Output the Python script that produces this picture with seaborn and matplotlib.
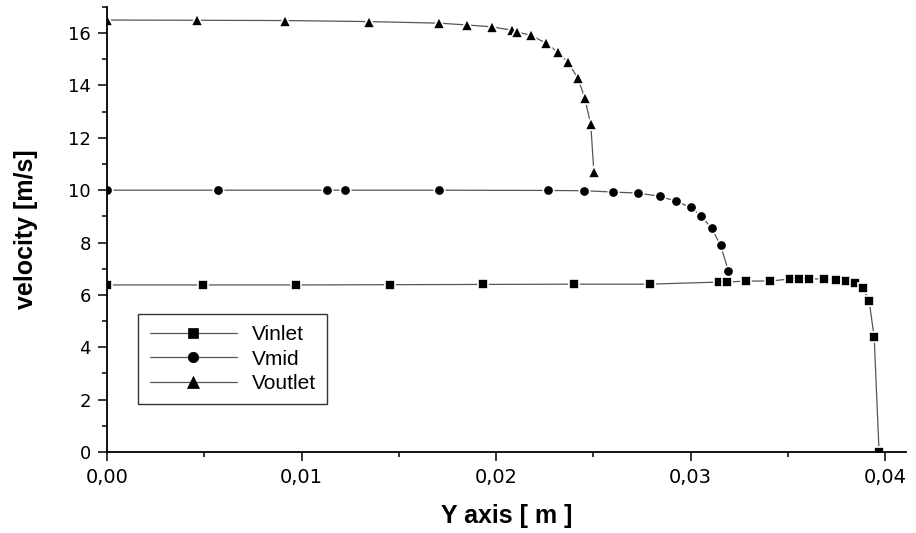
import pandas as pd
import seaborn as sns
import matplotlib.pyplot as plt
from matplotlib.ticker import MultipleLocator, FuncFormatter

# values
vinlet_x = [0.0, 0.00492, 0.00974, 0.01456, 0.01933, 0.02400, 0.02790, 0.03144, 0.03185,
            0.03287, 0.03410, 0.03513, 0.03559, 0.03610, 0.03687, 0.03749, 0.03800,
            0.03846, 0.03887, 0.03918, 0.03944, 0.03969]
vinlet_y = [6.38, 6.38, 6.38, 6.39, 6.40, 6.41, 6.41, 6.49, 6.49,
            6.53, 6.53, 6.61, 6.61, 6.61, 6.61, 6.57, 6.53,
            6.45, 6.26, 5.77, 4.39, 0.0]

vmid_x = [0.0, 0.00569, 0.01133, 0.01226, 0.01708, 0.02267, 0.02451, 0.02600, 0.02728,
          0.02841, 0.02923, 0.03000, 0.03056, 0.03108, 0.03154, 0.03195]
vmid_y = [10.0, 10.0, 10.0, 10.0, 10.0, 9.99, 9.98, 9.93, 9.89,
          9.77, 9.58, 9.35, 9.01, 8.55, 7.90, 6.91]

voutlet_x = [0.0, 0.00462, 0.00913, 0.01349, 0.01708, 0.01851, 0.01979, 0.02082, 0.02108,
             0.02179, 0.02256, 0.02318, 0.02369, 0.02421, 0.02456, 0.02487, 0.02503]
voutlet_y = [16.50, 16.49, 16.48, 16.44, 16.38, 16.31, 16.24, 16.11, 16.04,
             15.92, 15.62, 15.27, 14.89, 14.28, 13.52, 12.52, 10.69]

series = [("Vinlet", vinlet_x, vinlet_y, "s", 6.5),
          ("Vmid", vmid_x, vmid_y, "o", 7.5),
          ("Voutlet", voutlet_x, voutlet_y, "^", 8.5)]

sns.set_style("ticks")
plt.rcParams['font.family'] = ['Liberation Sans', 'DejaVu Sans']
plt.rcParams['text.color'] = 'black'
plt.rcParams['axes.labelcolor'] = 'black'

fig = plt.figure(figsize=(9.16, 5.33), dpi=100)
ax = fig.add_axes([0.1168, 0.152, 0.8728, 0.835])

for name, xs, ys, mk, ms in series:
    df = pd.DataFrame({"y": xs, "v": ys})
    sns.lineplot(data=df, x="y", y="v", ax=ax, sort=False, estimator=None,
                 color="#555555", linewidth=0.9, marker=mk, markersize=ms,
                 markerfacecolor="black", markeredgecolor="white",
                 markeredgewidth=1.2, label=name)

ax.set_xlim(0, 0.0411)
ax.set_ylim(0, 17)
ax.xaxis.set_major_locator(MultipleLocator(0.01))
ax.xaxis.set_minor_locator(MultipleLocator(0.005))
ax.yaxis.set_major_locator(MultipleLocator(2))
ax.yaxis.set_minor_locator(MultipleLocator(1))
ax.xaxis.set_major_formatter(FuncFormatter(lambda v, p: f"{v:.2f}".replace(".", ",")))

sns.despine(ax=ax)
for sp in ["left", "bottom"]:
    ax.spines[sp].set_linewidth(1.3)
    ax.spines[sp].set_color("black")
ax.tick_params(which="major", direction="out", length=6.5, width=1.1, colors="black",
               labelsize=13, pad=5)
ax.tick_params(which="minor", direction="out", length=3.5, width=1.1, colors="black")
for lab in ax.get_xticklabels():
    lab.set_fontfamily(['DejaVu Sans'])
    lab.set_fontsize(14)
for lab in ax.get_yticklabels():
    lab.set_fontfamily(['DejaVu Sans'])
    lab.set_fontsize(13)

ax.set_xlabel("Y axis [ m ]", fontsize=18, fontweight="bold", labelpad=12, color="black")
ax.set_ylabel("velocity [m/s]", fontsize=18, fontweight="bold", labelpad=22, color="black")

leg = ax.legend(loc="upper left", bbox_to_anchor=(0.039, 0.31), borderaxespad=0,
                fontsize=15, handlelength=4.2, handletextpad=0.7, labelspacing=0.25,
                fancybox=False, frameon=True, edgecolor="black", borderpad=0.55)
leg.get_frame().set_linewidth(1.0)
for t in leg.get_texts():
    t.set_color("black")
for h in leg.get_lines():
    h.set_markeredgecolor("black")
    h.set_markeredgewidth(0.5)

fig.savefig("out.png", dpi=100)
